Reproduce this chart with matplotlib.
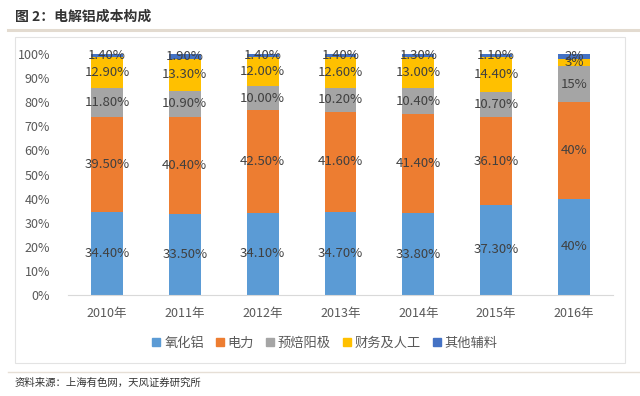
import matplotlib
matplotlib.use('Agg')
import matplotlib.pyplot as plt
from matplotlib.patches import Rectangle
from matplotlib.lines import Line2D
import numpy as np

plt.rcParams['font.family'] = ['Noto Sans CJK SC', 'DejaVu Sans']

years = ['2010年', '2011年', '2012年', '2013年', '2014年', '2015年', '2016年']
series_names = ['氧化铝', '电力', '预焙阳极', '财务及人工', '其他辅料']
alumina = [34.4, 33.5, 34.1, 34.7, 33.8, 37.3, 40]
power = [39.5, 40.4, 42.5, 41.6, 41.4, 36.1, 40]
anode = [11.8, 10.9, 10.0, 10.2, 10.4, 10.7, 15]
labor = [12.9, 13.3, 12.0, 12.6, 13.0, 14.4, 3]
other = [1.4, 1.9, 1.4, 1.4, 1.3, 1.1, 2]
# the last year is labelled without decimals
label_fmt = ['{:.2f}%'] * 6 + ['{:.0f}%']

colors = ['#5B9BD5', '#ED7D31', '#A5A5A5', '#FFC000', '#4472C4']
text_col = '#404040'

fig = plt.figure(figsize=(6.4, 3.96), dpi=100)

# title, separators and chart frame
fig.text(15 / 640, 1 - 17 / 396, '图 2：电解铝成本构成', fontsize=10, fontweight='bold',
         color='#333333', va='center', ha='left')
fig.add_artist(Line2D([8 / 640, 1], [1 - 30 / 396] * 2, color='#e3dbd0', lw=2.2))
fig.add_artist(Rectangle((15 / 640, 1 - 363 / 396), 610 / 640, 326 / 396, fill=False,
                         edgecolor='#e3e3e3', lw=0.8))
fig.add_artist(Line2D([8 / 640, 1], [1 - 372 / 396] * 2, color='#e6dfd6', lw=1))
fig.text(15 / 640, 1 - 383 / 396, '资料来源：上海有色网，天风证券研究所', fontsize=7.5,
         color='#333333', va='center', ha='left')

ax = fig.add_axes([68 / 640, 1 - 295 / 396, 545 / 640, 241 / 396])

data = np.array([alumina, power, anode, labor, other])
shares = data / data.sum(axis=0) * 100  # 100% stacked like the source chart
x = np.arange(len(years))
bottom = np.zeros(len(years))
for i, name in enumerate(series_names):
    ax.bar(x, shares[i], 0.41, bottom=bottom, color=colors[i], label=name, zorder=2)
    for j in range(len(years)):
        ax.text(x[j], bottom[j] + shares[i][j] / 2, label_fmt[j].format(data[i][j]),
                ha='center', va='center', fontsize=9.5, color=text_col, zorder=3)
    bottom += shares[i]

ax.set_xlim(-0.5, len(years) - 0.5)
ax.set_ylim(0, 100)
ax.set_yticks(range(0, 101, 10))
ax.set_yticklabels([f'{v}%' for v in range(0, 101, 10)])
ax.set_xticks(x)
ax.set_xticklabels(years)
for s in ['top', 'right', 'left']:
    ax.spines[s].set_visible(False)
ax.spines['bottom'].set_color('#d9d9d9')
ax.tick_params(axis='both', length=0, labelsize=9, colors='#595959')
ax.tick_params(axis='x', pad=9)
ax.tick_params(axis='y', pad=13)

handles = [Rectangle((0, 0), 1, 1, color=c) for c in colors]
fig.legend(handles, series_names, loc='center', bbox_to_anchor=(325 / 640, 1 - 343 / 396),
           ncol=5, frameon=False, fontsize=9.5, handlelength=0.6, handleheight=0.6,
           handletextpad=0.3, columnspacing=0.9, labelcolor='#595959')

fig.savefig('out.png', dpi=100)
